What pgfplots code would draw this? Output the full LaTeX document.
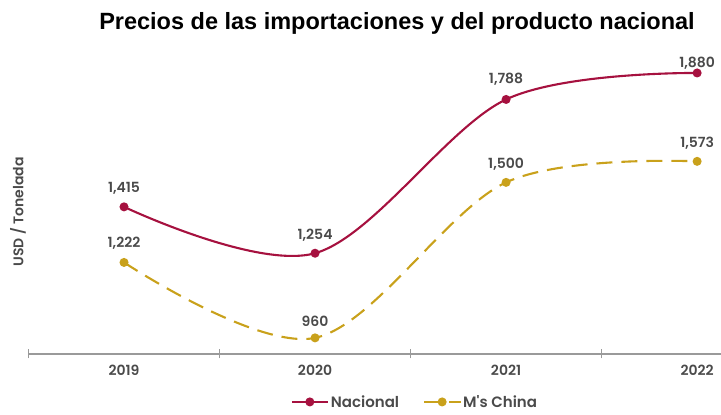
\documentclass[border=0pt]{standalone}
\usepackage{pgfplots}
\pgfplotsset{compat=1.18}
\usepackage{fontspec}
\setmainfont{Liberation Sans}
\newfontfamily\mont{Poppins}[BoldFont={Poppins SemiBold}]
\definecolor{nac}{HTML}{A6113F}
\definecolor{chi}{HTML}{C9A11B}
\definecolor{axg}{HTML}{9A9A9A}
\definecolor{txt}{HTML}{4A4A4A}
\begin{document}
\begin{tikzpicture}[x=1pt,y=1pt]
\path[use as bounding box] (0,0) rectangle (721,415);
\node[font=\bfseries\fontsize{23.5}{27}\selectfont, anchor=center] at (397,392) {Precios de las importaciones y del producto nacional};
\node[font=\mont\bfseries\fontsize{14}{16}\selectfont, text=txt, rotate=90] at (18,203) {USD / Tonelada};
\begin{axis}[
  at={(28.5pt,61pt)}, anchor=south west,
  scale only axis, width=692.5pt, height=294pt,
  xmin=-0.5, xmax=3.125, ymin=904, ymax=1925,
  clip=false,
  axis x line*=bottom, axis y line=none,
  x axis line style={axg, line width=2pt},
  xtick={0,1,2,3}, xticklabels={2019,2020,2021,2022},
  major tick length=0pt,
  minor xtick={-0.5,0.5,1.5,2.5},
  minor tick length=9pt, tick align=center,
  minor tick style={axg, line width=1.2pt},
  xticklabel style={font=\mont\bfseries\fontsize{14}{16}\selectfont, text=txt, yshift=-8pt},
  nodes near coords, point meta=explicit symbolic,
  visualization depends on={\thisrow{off}\as\off},
  every node near coord/.append style={anchor=center, yshift=\off pt, font=\mont\bfseries\fontsize{14}{16}\selectfont, text=txt},
  legend style={at={(0.558,-0.163)}, anchor=center, draw=none, fill=none, legend columns=2,
    font=\mont\bfseries\fontsize{15}{17}\selectfont, text=txt, inner sep=0pt,
    /tikz/every even column/.append style={column sep=22pt}},
  legend image code/.code={\draw[mark repeat=2,mark phase=2,#1] plot coordinates {(0pt,0pt) (18pt,0pt) (36pt,0pt)};},
]
\addplot[nac, line width=2.1pt, smooth, tension=0.55, mark=*, mark size=3.4pt, mark options={solid}]
  table[x=x, y=y, meta=lbl] {
x y lbl off
0 1415 1,415 19
1 1254 1,254 18
2 1788 1,788 20
3 1880 1,880 10
};
\addlegendentry{Nacional}
\addplot[chi, line width=2.1pt, smooth, tension=0.55, dash pattern=on 16pt off 9pt, mark=*, mark size=3.4pt, mark options={solid}]
  table[x=x, y=y, meta=lbl] {
x y lbl off
0 1222 1,222 19
1 960 960 17
2 1500 1,500 18
3 1573 1,573 18
};
\addlegendentry{M's China}
\end{axis}
\end{tikzpicture}
\end{document}
